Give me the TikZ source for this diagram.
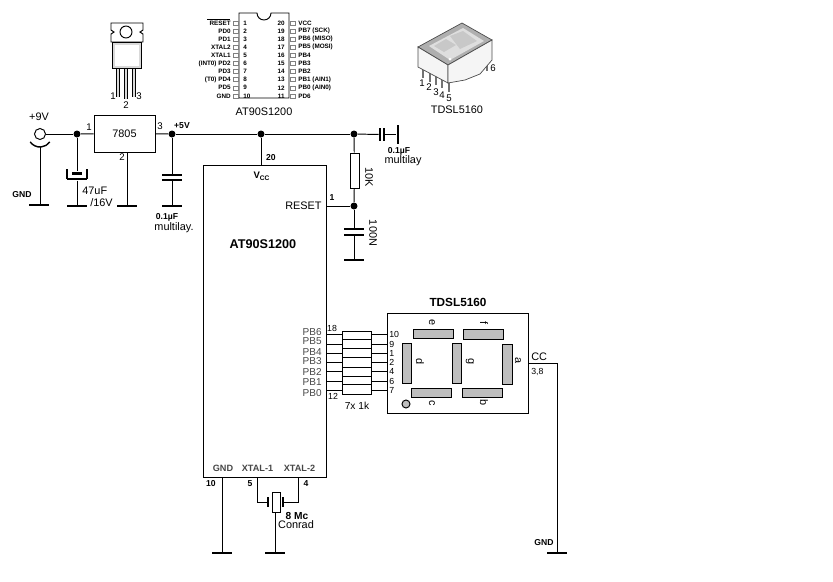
\documentclass[tikz,border=0pt]{standalone}
\usepackage{fontspec}
\setmainfont{Liberation Sans}
\usetikzlibrary{calc}
\definecolor{seg}{RGB}{190,190,190}
\definecolor{txtg}{RGB}{70,70,70}
\definecolor{topf}{RGB}{175,175,175}
\definecolor{winf}{RGB}{200,200,200}
\definecolor{digf}{RGB}{222,222,222}
\definecolor{sidef}{RGB}{245,245,245}
\newcommand{\fs}[1]{\fontsize{#1}{#1}\selectfont}

\begin{document}
\begin{tikzpicture}[
        x={(0.02cm,0cm)},
        y={(0cm,-0.02cm)},
        wire/.style={line width=0.55pt},
        thin line/.style={line width=0.4pt},
        lbl/.style={font=\fs{6.2}, inner sep=0pt},
        slbl/.style={font=\fs{5.5}, inner sep=0pt},
        blbl/.style={font=\fs{4.9}\bfseries, inner sep=0pt},
        tiny/.style={font=\fs{3.6}\bfseries, inner sep=0pt},
        bar/.style={shape=rectangle, fill=black, inner sep=0pt, minimum width=0.4cm, minimum height=0.045cm},
        plate/.style={shape=rectangle, fill=black, inner sep=0pt, minimum width=0.4cm, minimum height=0.04cm},
        vplate/.style={shape=rectangle, fill=black, inner sep=0pt, minimum width=0.04cm, minimum height=0.26cm},
        dot/.style={circle, fill=black, inner sep=0pt, minimum size=0.14cm},
        res/.style={shape=rectangle, draw, wire, fill=white, inner sep=0pt, minimum width=0.58cm},
        seg h/.style={shape=rectangle, draw, wire, fill=seg, inner sep=0pt, minimum width=0.81cm, minimum height=0.19cm},
        seg v/.style={shape=rectangle, draw, wire, fill=seg, inner sep=0pt, minimum width=0.19cm, minimum height=0.81cm},
        segl/.style={lbl, rotate=-90},
        ]
        \useasboundingbox (0,0) rectangle (833,582);

        % TO-220 package
        \foreach \x/\yy in {118/97,126/99,134/97}{
          \draw[line width=2pt, black] (\x,68) -- (\x,\yy);
          \draw[line width=1.2pt, white!70!gray] (\x,68) -- (\x,\yy);
        }
        \draw[wire, fill=white] (111,23) -- (143,23) -- (143,30) -- (140,32) -- (143,34) -- (143,42)
          -- (111,42) -- (111,34) -- (114,32) -- (111,30) -- cycle;
        \node (hole) [circle, draw, wire, minimum size=0.24cm, inner sep=0pt] at (126,32) {};
        \draw[thin line, fill=black!15] (112,42) rectangle (141,68);
        \fill[white] (115,45) rectangle (139,66);
        \node (to1) [slbl] at (113,96) {1};
        \node (to2) [slbl] at (126,105) {2};
        \node (to3) [slbl] at (139,96) {3};

        % DIP pinout
        \draw[wire] (239,13) -- (257,13) arc[start angle=180, end angle=0, radius=7] -- (289,13)
          -- (289,98) -- (239,98) -- cycle;
        \foreach \n/\l in {1/RESET,2/PD0,3/PD1,4/XTAL2,5/XTAL1,6/(INT0) PD2,7/PD3,8/(T0) PD4,9/PD5,10/GND}{
          \draw[line width=0.3pt, gray] (233,{23+8.1*(\n-1)-2}) rectangle (238,{23+8.1*(\n-1)+2});
          \node (dl\n) [tiny, anchor=east] at (231,{23+8.1*(\n-1)}) {\l};
          \node (dn\n) [tiny, anchor=west] at (243,{23+8.1*(\n-1)}) {\n};
        }
        \draw[line width=0.3pt] (207,19.5) -- (230,19.5);
        \foreach \n/\l [count=\i from 0] in {20/VCC,19/PB7 (SCK),18/PB6 (MISO),17/PB5 (MOSI),16/PB4,15/PB3,14/PB2,13/PB1 (AIN1),12/PB0 (AIN0),11/PD6}{
          \draw[line width=0.3pt, gray] (290,{23+8.1*\i-2}) rectangle (295,{23+8.1*\i+2});
          \node (dr\n) [tiny, anchor=west] at (298,{23+8.1*\i}) {\l};
          \node (dm\n) [tiny, anchor=east] at (285,{23+8.1*\i}) {\n};
        }
        \node (dipname) [lbl] at (264,112) {AT90S1200};

        % display picture
        \foreach \x/\yy in {423/78,430/82,436/85,442/88,449/92,487/71}{
          \draw[line width=1.6pt, black!55] (\x,{\yy-22}) -- (\x,\yy);
        }
        \draw[thin line, black!70, fill=topf] (418,47) -- (462,23) -- (492,40) -- (448,65) -- cycle;
        \draw[thin line, black!70, fill=sidef] (418,47) -- (448,65) -- (448,83) -- (418,67) -- cycle;
        \draw[thin line, black!70, fill=sidef] (448,65) -- (492,40) -- (492,60) -- (480,74) -- (465,80) -- (448,83) -- cycle;
        \fill[digf] (429,46) -- (463,28) -- (484,41) -- (450,60) -- cycle;
        \fill[winf] (434,46) -- (446,39) -- (456,45) -- (444,52) -- cycle;
        \fill[winf] (450,36) -- (463,31) -- (477,41) -- (460,49) -- cycle;
        \fill[white] (450,59) circle[radius=1.5];
        \node (d1) [slbl] at (422,83) {1};
        \node (d2) [slbl] at (429,87) {2};
        \node (d3) [slbl] at (436,92) {3};
        \node (d4) [slbl] at (442,95) {4};
        \node (d5) [slbl] at (449,98) {5};
        \node (d6) [slbl] at (493,68) {6};
        \node (dname) [lbl] at (457,110) {TDSL5160};

        % supply
        \node(jack)[circle, draw, wire, inner sep=0pt, minimum size=0.22cm] at (40,134) {};
        \draw[line width=0.8pt] (30.2,141.9) arc[start angle=145, end angle=35, radius=12];
        \coordinate (jackb) at (40,147);
        \node(gnda)[bar] at (39,205) {};
        \node(nodea)[dot] at (77,134) {};
        \node(reg)[shape=rectangle, draw, wire, inner sep=0pt, minimum width=1.22cm, minimum height=0.74cm, font=\fs{6.2}] at (124.5,133.5) {7805};
        \node(nodeb)[dot] at (172,134) {};
        \node(nodec)[dot] at (261,134) {};
        \node(noded)[dot] at (354,134) {};
        \node(gndb)[bar] at (77,206) {};
        \node(gndc)[bar] at (127,206) {};
        \node(gndd)[bar] at (172,206) {};
        \node(elplate)[plate, minimum width=0.22cm, minimum height=0.06cm] at (77,173) {};
        \node(elcup)[plate, minimum width=0.4cm, minimum height=0.05cm] at (77,179) {};
        \draw[line width=1pt] (67,169) -- (67,179);
        \draw[line width=1pt] (87,169) -- (87,179);
        \node(cba)[plate] at (172,175) {};
        \node(cbb)[plate] at (172,180) {};

        \draw[wire] (jackb) -- (jackb |- gnda);
        \draw[wire] (jack) -- (nodea);
        \draw[wire] (nodea) -- (reg);
        \draw[wire] (reg) -- (nodeb);
        \draw[wire] (nodeb) -- (nodec);
        \draw[wire] (nodec) -- (noded);
        \draw[wire] (nodea) -- (elplate);
        \draw[wire] (elcup) -- (gndb);
        \draw[wire] (reg.south -| gndc) -- (gndc);
        \draw[wire] (nodeb) -- (cba);
        \draw[wire] (cbb) -- (gndd);

        \node(v9)[lbl] at (39,117) {+9V};
        \node(lgnda)[blbl] at (22,195) {GND};
        \node(p1)[slbl] at (89,127) {1};
        \node(p3)[slbl] at (160,126) {3};
        \node(p2)[slbl] at (122,157) {2};
        \node(v5)[blbl] at (182,126) {+5V};
        \node(l47)[lbl, anchor=west] at (82,191) {47uF};
        \node(l16)[lbl, anchor=west] at (90,203) {/16V};
        \node(l01a)[blbl] at (167,217) {0.1µF};
        \node(lmla)[lbl] at (174,228) {multilay.};

        % chip
        \node(chip)[shape=rectangle, draw, wire, inner sep=0pt, minimum width=2.46cm, minimum height=6.26cm] at (264.5,321.5) {};
        \node(lchip)[font=\fs{7.2}\bfseries, inner sep=0pt] at (263,244) {AT90S1200};
        \node(lvcc)[blbl, font=\fs{5.4}\bfseries] at (262,176) {V\textsubscript{CC}};
        \node(l20)[blbl] at (271,158) {20};
        \node(lrst)[lbl, anchor=east] at (322,206) {RESET};
        \node(l1)[blbl] at (332,198) {1};
        \draw[wire] (nodec) -- (nodec |- chip.north);

        % reset
        \node(rreset)[res, minimum width=0.18cm, minimum height=0.7cm] at (354.5,170.5) {};
        \node(nodee)[dot] at (354,206) {};
        \node(cra)[plate] at (354,229) {};
        \node(crb)[plate] at (354,235) {};
        \node(gnde)[bar] at (354,260) {};
        \draw[wire] (noded) -- (rreset);
        \draw[wire] (rreset) -- (nodee);
        \draw[wire] (nodee) -- (cra);
        \draw[wire] (crb) -- (gnde);
        \draw[wire] (nodee) -- (nodee -| chip.east);
        \node(l10k)[lbl, rotate=-90] at (369,177) {10K};
        \node(l100)[lbl, rotate=-90] at (373,233) {100N};

        % decoupling
        \node(cda)[vplate] at (380,134.5) {};
        \node(cdb)[vplate] at (384,134.5) {};
        \node(gndf)[bar, minimum width=0.05cm, minimum height=0.38cm] at (398,134.5) {};
        \draw[wire] (noded) -- (cda);
        \draw[wire] (cdb) -- (gndf);
        \node(l01b)[blbl] at (399,151) {0.1µF};
        \node(lmlb)[lbl] at (403,161) {multilay};

        % display
        \node(disp)[shape=rectangle, draw, wire, inner sep=0pt, minimum width=2.82cm, minimum height=2cm] at (458,363) {};
        \node(ldisp)[font=\fs{6.7}\bfseries, inner sep=0pt] at (458,302) {TDSL5160};
        \node(sege)[seg h] at (433.5,334) {};
        \node(segf)[seg h] at (483.5,334.5) {};
        \node(segd)[seg v] at (407,363.5) {};
        \node(segg)[seg v] at (457,363.5) {};
        \node(sega)[seg v] at (507.5,364.5) {};
        \node(segc)[seg h] at (431.5,393) {};
        \node(segb)[seg h] at (482.5,393) {};
        \node(dp)[circle, draw, wire, fill=seg, inner sep=0pt, minimum size=0.16cm] at (406,404) {};
        \node(le)[segl] at (432,323) {e};
        \node(lf)[segl] at (484,323) {f};
        \node(ld)[segl] at (420,362) {d};
        \node(lg)[segl] at (470,362) {g};
        \node(la)[segl] at (518,361) {a};
        \node(lc)[segl] at (432,403) {c};
        \node(lb)[segl] at (484,403) {b};

        % pull resistors
        \foreach \n/\l/\w/\t/\b/\p in {6/332/334/331/339/10,5/341/344/339/348/9,4/352/353/348/357/1,3/361/362/357/367/2,2/372/371/367/376/4,1/382/381/376/384/6,0/393/390/384/394/7}{
          \node(rb\n)[res, thin line, minimum height={(\b-\t)*0.02cm}] at (356.5,{(\t+\b)/2}) {};
          \coordinate (pa\n) at (chip.east |- 0,\w);
          \coordinate (pb\n) at (disp.west |- 0,\w);
          \coordinate (ra\n) at (rb\n.west |- 0,\w);
          \coordinate (rc\n) at (rb\n.east |- 0,\w);
          \draw[thin line] (pa\n) -- (ra\n);
          \draw[thin line] (rc\n) -- (pb\n);
          \node(lp\n)[lbl, anchor=east, text=txtg, font=\fs{5.7}] at (322,\l) {PB\n};
          \node(ln\n)[lbl, anchor=west, font=\fs{5}] at (389,{\w+0.5}) {\p};
        }
        \node(l18)[lbl, font=\fs{5}] at (332,328) {18};
        \node(l12)[lbl, font=\fs{5}] at (333,396) {12};
        \node(l7x)[lbl, font=\fs{5.8}] at (357,406) {7x 1k};

        % cathode
        \node(gndg)[bar] at (557,553) {};
        \draw[wire] (disp.east |- 0,363) -| (gndg);
        \node(lcc)[lbl, anchor=west] at (531,357) {CC};
        \node(l38)[lbl, anchor=west, font=\fs{5}] at (531,372) {3,8};
        \node(lgndg)[blbl] at (544,543) {GND};

        % bottom
        \node(lgnd)[lbl, text=txtg, font=\fs{5.2}\bfseries] at (223,468) {GND};
        \node(lxa)[lbl, text=txtg, font=\fs{5.2}\bfseries] at (257.5,468) {XTAL-1};
        \node(lxb)[lbl, text=txtg, font=\fs{5.2}\bfseries] at (299.5,468) {XTAL-2};
        \node(gndh)[bar] at (222,553) {};
        \node(gndi)[bar] at (275,553) {};
        \node(xtal)[res, minimum width=0.16cm, minimum height=0.4cm] at (276,502) {};
        \node(xa)[vplate, minimum height=0.2cm] at (268,502) {};
        \node(xb)[vplate, minimum height=0.2cm] at (283,502) {};
        \coordinate (xpa) at (257,478);
        \coordinate (xpb) at (298,478);
        \draw[wire] (chip.south -| gndh) -- (gndh);
        \draw[wire] (xpa) |- (xa);
        \draw[wire] (xpb) |- (xb);
        \draw[wire] (xtal.south -| gndi) -- (gndi);
        \node(l10)[blbl] at (211,484) {10};
        \node(l5)[blbl] at (250,484) {5};
        \node(l4)[blbl] at (306,484) {4};
        \node(l8m)[blbl, font=\fs{5.8}\bfseries] at (297,516) {8 Mc};
        \node(lcon)[lbl] at (296,525) {Conrad};
\end{tikzpicture}
\end{document}
